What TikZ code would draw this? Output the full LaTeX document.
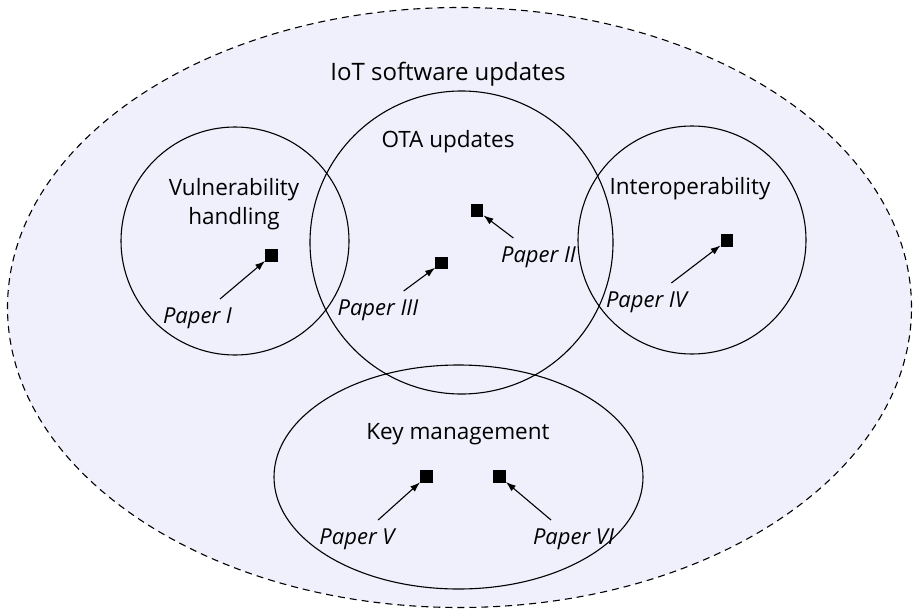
\documentclass[tikz,border=0pt]{standalone}
\usepackage{fontspec}
\setmainfont{Open Sans}
\usetikzlibrary{arrows.meta, shapes.geometric}
\definecolor{setfill}{RGB}{240,240,252}

\begin{document}
\begin{tikzpicture}[x=1pt,y=-1pt,
        area/.style={draw,circle,line width=1.1pt,inner sep=0pt},
        oval/.style={draw,ellipse,line width=1.1pt,inner sep=0pt},
        paper/.style={fill=black,minimum size=12.5pt,inner sep=0pt},
        tag/.style={font=\fontsize{22}{26}\selectfont\itshape,inner sep=2pt,outer sep=6.5pt},
        topic/.style={font=\fontsize{22.5}{29}\selectfont,align=center},
        pointer/.style={-{Latex[length=10pt,width=7pt]},line width=1.1pt}]
        \useasboundingbox (0,0) rectangle (917,613);

        % the whole field and its areas
        \node[oval,dashed,dash pattern=on 7pt off 5pt,fill=setfill,
              minimum width=904pt,minimum height=600pt] (iot) at (459.5,307.5) {};
        \node[area,minimum size=228pt] (vuln) at (235,241) {};
        \node[area,minimum size=303pt] (ota) at (461.5,242.5) {};
        \node[area,minimum size=228pt] (interop) at (692,240) {};
        \node[oval,minimum width=369pt,minimum height=224pt] (keymgmt) at (458.5,477) {};

        % area titles
        \node[topic,font=\fontsize{24}{29}\selectfont] (iotlabel) at (448,74) {IoT software updates};
        \node[topic] (otalabel) at (448,142) {OTA updates};
        \node[topic] (vulnlabel) at (234,204) {Vulnerability\\handling};
        \node[topic] (interoplabel) at (690,189) {Interoperability};
        \node[topic] (keylabel) at (458,434) {Key management};

        % papers
        \node[paper] (p1) at (271.5,255.5) {};
        \node[paper] (p2) at (477,210.5) {};
        \node[paper] (p3) at (441.5,263) {};
        \node[paper] (p4) at (727,240.5) {};
        \node[paper] (p5) at (426.5,476.5) {};
        \node[paper] (p6) at (499.5,476.5) {};

        \node[tag] (l1) at (197.5,318) {Paper I};
        \node[tag] (l2) at (538.5,257) {Paper II};
        \node[tag] (l3) at (378,310) {Paper III};
        \node[tag] (l4) at (646.5,302) {Paper IV};
        \node[tag] (l5) at (357,539) {Paper V};
        \node[tag] (l6) at (573.5,539) {Paper VI};

        \path[pointer]
                (l1) edge (p1)
                (l2) edge (p2)
                (l3) edge (p3)
                (l4) edge (p4)
                (l5) edge (p5)
                (l6) edge (p6);
\end{tikzpicture}
\end{document}
